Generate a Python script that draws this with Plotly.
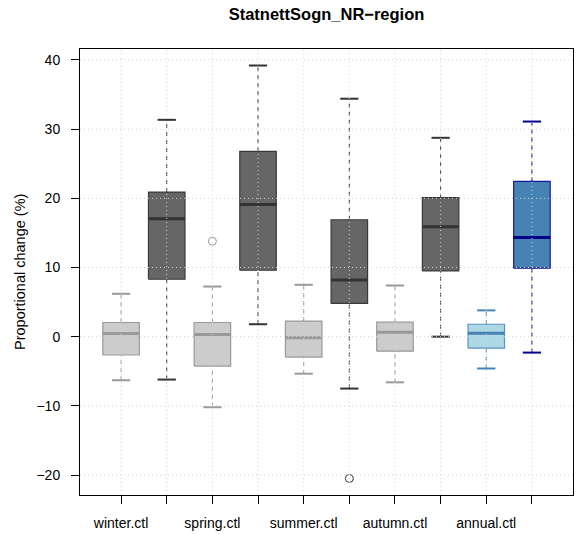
import plotly.graph_objects as go

# Seasonal distributions of proportional change (%) for StatnettSogn_NR-region
labels = ["winter.ctl", "", "spring.ctl", "", "summer.ctl", "",
          "autumn.ctl", "", "annual.ctl", ""]
lower_whisker = [-6.3, -6.2, -10.2, 1.8, -5.35, -7.5, -6.6, 0.0, -4.6, -2.3]
q1 = [-2.65, 8.3, -4.25, 9.6, -2.95, 4.8, -2.1, 9.5, -1.65, 9.9]
median = [0.45, 17.05, 0.3, 19.1, -0.15, 8.2, 0.65, 15.9, 0.5, 14.35]
q3 = [2.05, 20.9, 2.05, 26.8, 2.25, 16.9, 2.1, 20.1, 1.8, 22.45]
upper_whisker = [6.2, 31.35, 7.25, 39.2, 7.5, 34.4, 7.4, 28.75, 3.8, 31.1]
outlier_pos = [3, 6]
outlier_val = [13.8, -20.5]
yticks = [-20, -10, 0, 10, 20, 30, 40]

# style per box: (fill, border, median/whisker colour)
light = ("#cccccc", "#999999", "#999999")
dark = ("#666666", "#3a3a3a", "#333333")
styles = [light, dark, light, dark, light, dark, light, dark,
          ("#add8e6", "#5b92c2", "#4682b4"), ("#4682b4", "#1a1a99", "#00008b")]

half_box = 0.4
half_cap = 0.2

fig = go.Figure()
for i in range(len(labels)):
    x = i + 1
    fill, border, mcol = styles[i]
    # whiskers (dashed)
    fig.add_trace(go.Scatter(
        x=[x, x, None, x, x],
        y=[lower_whisker[i], q1[i], None, q3[i], upper_whisker[i]],
        mode="lines", line=dict(color=mcol, width=1, dash="4px,4px"),
        showlegend=False, hoverinfo="skip"))
    # staples
    fig.add_trace(go.Scatter(
        x=[x - half_cap, x + half_cap, None, x - half_cap, x + half_cap],
        y=[lower_whisker[i], lower_whisker[i], None, upper_whisker[i], upper_whisker[i]],
        mode="lines", line=dict(color=mcol, width=2),
        showlegend=False, hoverinfo="skip"))
    # box
    fig.add_trace(go.Scatter(
        x=[x - half_box, x + half_box, x + half_box, x - half_box, x - half_box],
        y=[q1[i], q1[i], q3[i], q3[i], q1[i]],
        mode="lines", fill="toself", fillcolor=fill,
        line=dict(color=border, width=1.2),
        showlegend=False, hoverinfo="skip"))
    # median
    fig.add_trace(go.Scatter(
        x=[x - half_box, x + half_box], y=[median[i], median[i]],
        mode="lines", line=dict(color=mcol, width=3),
        showlegend=False, hoverinfo="skip"))

# outliers
fig.add_trace(go.Scatter(
    x=outlier_pos, y=outlier_val, mode="markers",
    marker=dict(symbol="circle-open", size=8,
                color=[styles[p - 1][2] for p in outlier_pos], line=dict(width=1)),
    showlegend=False, hoverinfo="skip"))

# y range: data range padded by 4 %
all_vals = lower_whisker + upper_whisker + outlier_val
lo, hi = min(all_vals), max(all_vals)
pad = 0.04 * (hi - lo)
yrange = [lo - pad, hi + pad]
n = len(labels)
xrange = [0.5 - 0.04 * n, n + 0.5 + 0.04 * n]

# dotted grid drawn on top of the boxes
grid = dict(color="#d3d3d3", width=1, dash="1px,3px")
for t in yticks:
    fig.add_shape(type="line", xref="paper", yref="y", x0=0, x1=1, y0=t, y1=t,
                  line=grid, layer="above")
for k in range(1, n + 1):
    fig.add_shape(type="line", xref="x", yref="paper", x0=k, x1=k, y0=0, y1=1,
                  line=grid, layer="above")

font = "Liberation Sans, Arial, Helvetica, sans-serif"
fig.update_layout(
    width=576, height=535,
    margin=dict(l=80, r=3, t=49, b=40),
    plot_bgcolor="white", paper_bgcolor="white",
    font=dict(family=font, size=14, color="black"),
    title=dict(text="<b>StatnettSogn_NR\u2212region</b>", x=326.5 / 576,
               xanchor="center", y=1 - 14 / 535, yanchor="middle",
               xref="container", yref="container",
               font=dict(size=16.5, family=font, color="black")),
    xaxis=dict(range=xrange, tickmode="array", tickvals=list(range(1, n + 1)),
               ticktext=labels, ticks="outside", ticklen=8, tickcolor="black",
               showline=True, linecolor="black", linewidth=1, mirror=True,
               showgrid=False, zeroline=False, ticklabelstandoff=7),
    yaxis=dict(range=yrange, tickmode="array", tickvals=yticks,
               ticks="outside", ticklen=8, tickcolor="black",
               showline=True, linecolor="black", linewidth=1, mirror=True,
               showgrid=False, zeroline=False, ticklabelstandoff=8),
    annotations=[dict(text="Proportional change (%)", textangle=-90,
                      xref="paper", yref="paper", x=-60 / 493, y=0.5,
                      xanchor="center", yanchor="middle", showarrow=False,
                      font=dict(size=14.5, family=font))],
)

fig.write_html("out.html")
